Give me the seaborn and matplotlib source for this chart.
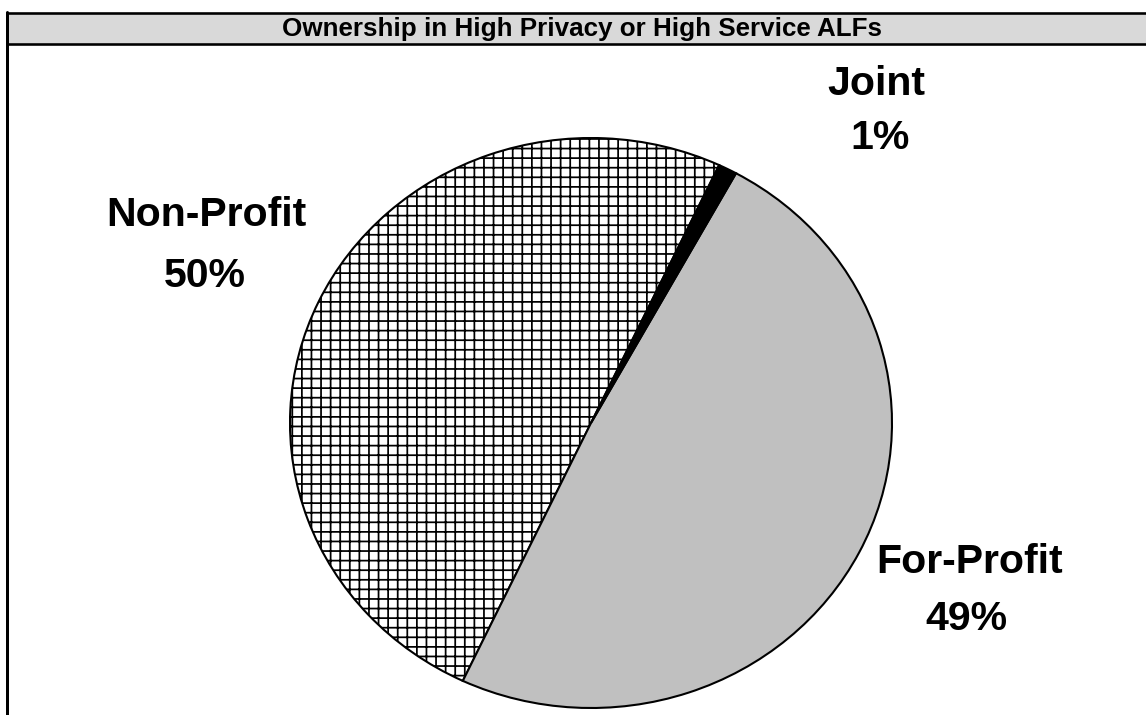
import matplotlib
matplotlib.use("Agg")
import matplotlib.pyplot as plt
from matplotlib.patches import Rectangle
from matplotlib.lines import Line2D
import seaborn as sns

sns.set_theme(style="white")
plt.rcParams['font.family'] = ['Liberation Sans', 'DejaVu Sans']
plt.rcParams['hatch.linewidth'] = 1.1
plt.rcParams['hatch.color'] = 'black'

# --- data ---
title = "Ownership in High Privacy or High Service ALFs"
categories = ["Non-Profit", "For-Profit", "Joint"]
shares = [50, 49, 1]
fills = ["white", "#c0c0c0", "black"]
hatches = ["++", "", ""]

W, H, DPI = 1146, 715, 115
fig = plt.figure(figsize=(W / DPI, H / DPI), dpi=DPI)
fig.patch.set_facecolor('white')


def fx(px):
    return px / W


def fy(py):
    return 1 - py / H


def pt(px):
    return px * 72 / DPI


# --- pie ---
cx, cy, rx, ry = 591, 423, 301, 285
pad = 1.1
ax = fig.add_axes([fx(cx - rx * pad), fy(cy + ry * pad),
                   2 * rx * pad / W, 2 * ry * pad / H])
wedges, _ = ax.pie(shares, colors=fills, startangle=64.8, counterclock=True,
                   wedgeprops=dict(edgecolor='black', linewidth=1.3))
for wedge, hatch in zip(wedges, hatches):
    wedge.set_hatch(hatch)
ax.set_aspect('auto')
ax.set_xlim(-pad, pad)
ax.set_ylim(-pad, pad)
ax.axis('off')

# --- title bar and frame ---
bar = Rectangle((fx(7), fy(44)), fx(1170) - fx(7), 31 / H,
                transform=fig.transFigure, facecolor='#d9d9d9',
                edgecolor='black', linewidth=pt(2.6), zorder=5)
fig.add_artist(bar)
fig.add_artist(Line2D([fx(7), fx(7)], [fy(12), fy(730)],
                      transform=fig.transFigure, color='black',
                      linewidth=pt(3), zorder=6))
fig.text(fx(582), fy(36), title, ha='center', va='baseline',
         fontsize=pt(26), fontweight='bold', color='black', zorder=7)

# --- slice labels ---
label_pos = {
    "Non-Profit": ((206, 226), (205, 287)),
    "For-Profit": ((970, 573), (966, 630)),
    "Joint": ((876, 95), (880, 149)),
}
for name, share in zip(categories, shares):
    (nx, ny), (px_, py_) = label_pos[name]
    fig.text(fx(nx), fy(ny), name, ha='center', va='baseline',
             fontsize=pt(41), fontweight='bold', color='black')
    fig.text(fx(px_), fy(py_), f"{share}%", ha='center', va='baseline',
             fontsize=pt(41), fontweight='bold', color='black')

fig.savefig("out.png", dpi=DPI)
